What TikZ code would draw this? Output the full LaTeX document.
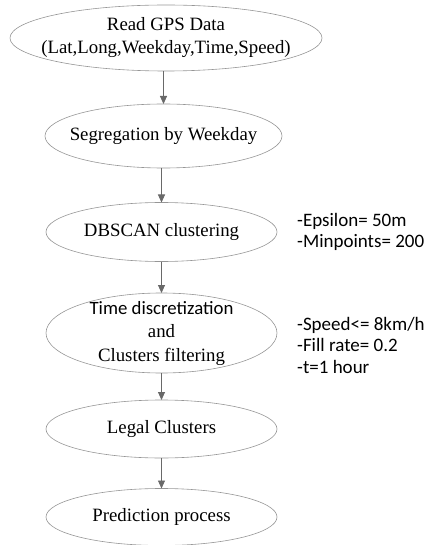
\documentclass[tikz,border=0pt]{standalone}
\usepackage{fontspec}
\setmainfont{Liberation Serif}
\newfontfamily\notefont{Carlito}
\usetikzlibrary{shapes.geometric,arrows.meta}
\definecolor{ellgray}{RGB}{150,150,150}
\definecolor{arrgray}{RGB}{105,105,105}
\tikzset{
  proc/.style={ellipse, draw=ellgray, line width=0.6pt, inner sep=0pt, outer sep=0pt},
  lbl/.style={align=center, inner sep=0pt, font=\fontsize{18.8}{23}\selectfont},
  arr/.style={draw=arrgray, line width=0.9pt, -{Triangle[length=8pt,width=7pt]}, arrgray},
  note/.style={anchor=west, align=left, inner sep=0pt, font=\notefont\fontsize{19}{21.5}\selectfont}
}
\begin{document}
\begin{tikzpicture}[x=1pt,y=-1pt]
\useasboundingbox (0,0) rectangle (425,545);
\node[proc, minimum width=312pt, minimum height=66pt] (n1) at (166,38) {};
\node[proc, minimum width=237pt, minimum height=64pt] (n2) at (163.5,136) {};
\node[proc, minimum width=231pt, minimum height=59pt] (n3) at (161.5,232) {};
\node[proc, minimum width=231pt, minimum height=80pt] (n4) at (161.5,333) {};
\node[proc, minimum width=231pt, minimum height=58pt] (n5) at (161.5,429) {};
\node[proc, minimum width=231pt, minimum height=57pt] (n6) at (161.5,517) {};
\node[lbl] (l1) at (n1.center) {Read GPS Data\\(Lat,Long,Weekday,Time,Speed)};
\node[lbl] (l2) at (n2.center) {Segregation by Weekday};
\node[lbl] (l3) at (n3.center) {DBSCAN clustering};
\node[lbl, font=\fontsize{18.8}{23.5}\selectfont] (l4) at (n4.center) {{\notefont Time discretization}\\and\\Clusters filtering};
\node[lbl] (l5) at (n5.center) {Legal Clusters};
\node[lbl] (l6) at (n6.center) {Prediction process};
\node[note] (t1) at (297,232) {-Epsilon= 50m\\-Minpoints= 200};
\node[note] (t2) at (297,345) {-Speed<= 8km/h\\-Fill rate= 0.2\\-t=1 hour};
\draw[arr] (n2.north |- n1.south) -- (n2.north);
\draw[arr] (n3.north |- n2.south) -- (n3.north);
\draw[arr] (n4.north |- n3.south) -- (n4.north);
\draw[arr] (n5.north |- n4.south) -- (n5.north);
\draw[arr] (n6.north |- n5.south) -- (n6.north);
\end{tikzpicture}
\end{document}
